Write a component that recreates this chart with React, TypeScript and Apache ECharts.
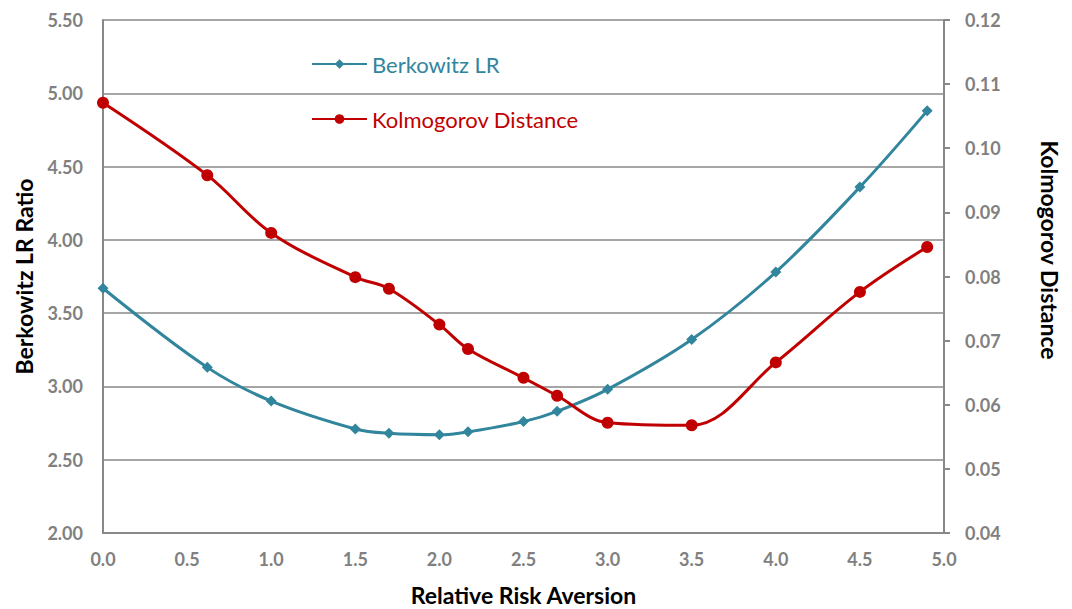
import React, { useEffect, useRef } from "react";
import * as echarts from "echarts";

const xValues = [0.0, 0.62, 1.0, 1.5, 1.7, 2.0, 2.17, 2.5, 2.7, 3.0, 3.5, 4.0, 4.5, 4.9];
const berkowitz = [3.67, 3.13, 2.9, 2.71, 2.68, 2.67, 2.69, 2.76, 2.83, 2.98, 3.32, 3.78, 4.36, 4.88];
const kolmogorov = [0.1071, 0.0958, 0.0868, 0.0799, 0.0781, 0.0725, 0.0687, 0.0642, 0.0614, 0.0572, 0.0568, 0.0666, 0.0776, 0.0846];

const BLUE = "#31859C";
const RED = "#C00000";
const FONT = "Lato, 'Open Sans', sans-serif";

export default function App() {
  const ref = useRef<HTMLDivElement>(null);
  useEffect(() => {
    if (!ref.current) return;
    document.body.style.margin = "0";
    document.body.style.overflow = "hidden";
    const chart = echarts.init(ref.current, undefined, { renderer: "svg" });
    const labelStyle = { color: "#808080", fontWeight: "bold" as const, fontSize: 18, fontFamily: FONT };
    const titleStyle = { color: "#000", fontWeight: "bold" as const, fontSize: 23, fontFamily: FONT };
    chart.setOption({
      animation: false,
      backgroundColor: "#ffffff",
      grid: { left: 103, right: 128, top: 20, bottom: 76, containLabel: false, outerBoundsMode: "none" },
      legend: {
        orient: "vertical",
        left: 306,
        top: 48,
        itemGap: 33,
        itemWidth: 55,
        itemHeight: 12,
        textStyle: { fontSize: 22, fontFamily: FONT },
        data: [
          { name: "Berkowitz LR", textStyle: { color: BLUE } },
          { name: "Kolmogorov Distance", textStyle: { color: RED } },
        ],
      },
      graphic: [
        {
          type: "text",
          x: 1050,
          y: 250,
          rotation: -Math.PI / 2,
          style: {
            text: "Kolmogorov Distance",
            fill: "#000",
            font: `bold 23px ${FONT}`,
            align: "center",
            verticalAlign: "middle",
          },
        },
      ],
      xAxis: {
        type: "value",
        min: 0,
        max: 5,
        interval: 0.5,
        name: "Relative Risk Aversion",
        nameLocation: "middle",
        nameGap: 50,
        nameTextStyle: titleStyle,
        axisLine: { show: true, lineStyle: { color: "#888888", width: 2 } },
        axisTick: { show: false },
        splitLine: { show: false },
        axisLabel: {
          ...labelStyle,
          margin: 17,
          formatter: (v: number) => v.toFixed(1),
        },
      },
      yAxis: [
        {
          type: "value",
          min: 2,
          max: 5.5,
          interval: 0.5,
          position: "left",
          name: "Berkowitz LR Ratio",
          nameLocation: "middle",
          nameGap: 68,
          nameTextStyle: titleStyle,
          axisLine: { show: true, lineStyle: { color: "#888888", width: 2 } },
          axisTick: { show: false },
          splitLine: { show: true, lineStyle: { color: "#888888", width: 1.5 } },
          axisLabel: { ...labelStyle, margin: 20, formatter: (v: number) => v.toFixed(2) },
        },
        {
          type: "value",
          min: 0.04,
          max: 0.12,
          interval: 0.01,
          position: "right",
          axisLine: { show: true, lineStyle: { color: "#888888", width: 2 } },
          axisTick: { show: true, length: 6, lineStyle: { color: "#888888", width: 2 } },
          splitLine: { show: false },
          axisLabel: { ...labelStyle, margin: 21, formatter: (v: number) => v.toFixed(2) },
        },
      ],
      series: [
        {
          name: "Berkowitz LR",
          type: "line",
          yAxisIndex: 0,
          data: xValues.map((x, i) => [x, berkowitz[i]]),
          smooth: 0.35,
          symbol: "diamond",
          symbolSize: 11,
          itemStyle: { color: BLUE },
          lineStyle: { color: BLUE, width: 3 },
        },
        {
          name: "Kolmogorov Distance",
          type: "line",
          yAxisIndex: 1,
          data: xValues.map((x, i) => [x, kolmogorov[i]]),
          smooth: 0.35,
          symbol: "circle",
          symbolSize: 12,
          itemStyle: { color: RED },
          lineStyle: { color: RED, width: 3 },
        },
      ],
    });
    return () => chart.dispose();
  }, []);
  return <div ref={ref} style={{ width: 1072, height: 609, position: "fixed", left: 0, top: 0 }} />;
}
